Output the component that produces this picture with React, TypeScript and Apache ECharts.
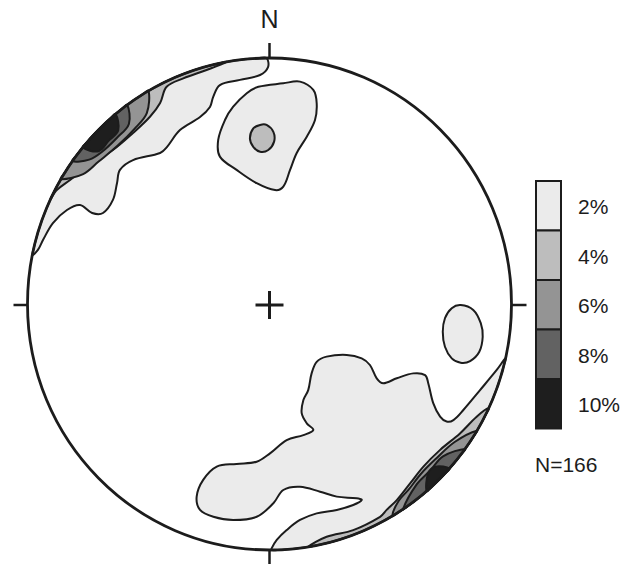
import React, { useEffect, useRef } from "react";
import * as echarts from "echarts";

// Legend levels and grey fills
const levelLabels = ["2%", "4%", "6%", "8%", "10%"];
const levelColors = ["#ebebeb", "#bdbdbd", "#949494", "#626262", "#1e1e1e"];
const sampleLabel = "N=166";
const northLabel = "N";

// Contours in stereonet units (radius = 100, x east, y north).
// arc = [start, end] angles (deg) along the primitive circle, followed by interior points.
const nw2Arc = [168.5, 90.7];
const nw2Pts = [[-0.6, 96.3], [-3.9, 93.1], [-12.2, 91.1], [-20.5, 89.0], [-23.3, 84.1], [-24.6, 80.1], [-28.7, 76.0], [-37.0, 70.7], [-42.4, 63.8], [-45.2, 61.4], [-56.4, 58.5], [-61.8, 54.5], [-63.0, 49.2], [-64.7, 42.3], [-68.8, 37.0], [-73.3, 37.0], [-78.3, 40.2], [-83.7, 38.2], [-89.5, 32.9], [-93.6, 26.0], [-95.7, 22.0]];
const nw4Arc = [154.8, 100.2];
const nw4Pts = [[-26.0, 95.1], [-35.6, 91.7], [-42.5, 88.3], [-45.2, 81.7], [-49.4, 76.1], [-56.4, 69.5], [-64.7, 62.6], [-75.5, 55.8], [-82.4, 50.4], [-87.9, 46.3]];
const nw6Arc = [149.5, 120.0];
const nw6Pts = [[-50.7, 77.6], [-55.8, 71.2], [-62.6, 64.5], [-70.6, 57.9], [-77.0, 52.8]];
const nw8Arc = [144.5, 126.0];
const nw8Pts = [[-58.1, 73.2], [-63.0, 67.6], [-69.3, 61.8], [-74.5, 58.7]];
const nw10Arc = [140.5, 129.5];
const nw10Pts = [[-62.5, 70.6], [-66.4, 66.4], [-70.6, 62.1]];

const n2Pts = [[-4.6, 88.3], [5.7, 89.7], [12.6, 90.4], [18.1, 87.0], [19.5, 81.6], [18.8, 74.8], [15.4, 68.0], [11.2, 61.3], [8.5, 54.5], [5.7, 47.7], [2.3, 46.3], [-5.3, 49.1], [-13.6, 54.5], [-20.5, 59.9], [-21.2, 66.7], [-18.4, 74.8], [-15.0, 80.2], [-9.4, 85.7]];
const n4Pts = [[-1.2, 72.8], [1.6, 70.0], [1.9, 66.0], [-0.5, 62.6], [-3.9, 61.9], [-6.7, 63.9], [-8.1, 67.4], [-6.7, 71.4], [-3.9, 72.8]];

const e2Pts = [[79.0, -0.4], [84.2, -2.4], [87.3, -7.8], [88.1, -13.3], [86.7, -19.4], [82.9, -23.2], [79.0, -23.9], [75.3, -22.1], [72.5, -17.4], [71.6, -11.3], [72.5, -5.8], [75.3, -1.7]];

const s2Arc = [-89.5, -12.8];
const s2Pts = [[93.9, -26.8], [87.0, -35.0], [80.1, -43.1], [76.0, -47.2], [73.2, -47.8], [70.5, -45.8], [67.7, -40.4], [65.6, -32.2], [64.3, -28.9], [59.4, -28.2], [52.6, -30.2], [47.0, -32.2], [44.3, -30.2], [41.5, -24.8], [38.1, -22.1], [31.9, -20.7], [23.6, -21.4], [19.5, -23.5], [17.4, -28.2], [16.0, -35.0], [14.0, -39.0], [13.3, -44.4], [15.4, -48.5], [18.1, -51.2], [14.0, -53.3], [7.1, -55.3], [0.2, -60.7], [-5.3, -64.1], [-13.6, -65.0], [-21.8, -66.1], [-27.4, -71.5], [-30.1, -78.3], [-28.7, -83.7], [-23.2, -86.5], [-15.0, -87.8], [-5.3, -86.5], [1.6, -81.0], [5.7, -75.6], [12.6, -74.3], [20.9, -76.3], [27.8, -78.3], [36.0, -79.0], [38.1, -79.7], [34.6, -81.7], [27.8, -83.7], [19.5, -85.1], [12.6, -87.8], [7.1, -91.9], [3.0, -95.9], [0.9, -99.3]];
const se4Arc = [-80.8, -25.1];
const se4Pts = [[85.6, -45.8], [78.7, -52.6], [70.5, -59.3], [63.6, -66.1], [58.1, -72.9], [52.6, -79.7], [48.4, -83.7], [45.7, -86.5], [34.6, -91.9], [23.6, -94.6]];
const se6Arc = [-59.5, -31.0];
const se6Pts = [[76.5, -56.1], [69.0, -62.7], [62.6, -69.0], [57.3, -75.7], [53.4, -80.0]];
const se8Arc = [-56.5, -36.1];
const se8Pts = [[71.7, -61.9], [66.5, -67.6], [60.6, -73.6]];
const se10Arc = [-49.5, -42.0];
const se10Pts = [[68.5, -66.1], [65.5, -69.0]];

type Contour = { level: number; arc: number[] | null; pts: number[][] };

const contours: Contour[] = [
  { level: 0, arc: nw2Arc, pts: nw2Pts },
  { level: 0, arc: null, pts: n2Pts },
  { level: 0, arc: null, pts: e2Pts },
  { level: 0, arc: s2Arc, pts: s2Pts },
  { level: 1, arc: nw4Arc, pts: nw4Pts },
  { level: 1, arc: null, pts: n4Pts },
  { level: 1, arc: se4Arc, pts: se4Pts },
  { level: 2, arc: nw6Arc, pts: nw6Pts },
  { level: 2, arc: se6Arc, pts: se6Pts },
  { level: 3, arc: nw8Arc, pts: nw8Pts },
  { level: 3, arc: se8Arc, pts: se8Pts },
  { level: 4, arc: nw10Arc, pts: nw10Pts },
  { level: 4, arc: se10Arc, pts: se10Pts },
];

// points on the primitive circle (geometry of the net, radius 100)
function arcPoints(a0: number, a1: number): number[][] {
  const n = Math.max(2, Math.ceil(Math.abs(a1 - a0) / 2));
  const out: number[][] = [];
  for (let i = 0; i <= n; i++) {
    const a = ((a0 + ((a1 - a0) * i) / n) * Math.PI) / 180;
    out.push([100 * Math.cos(a), 100 * Math.sin(a)]);
  }
  return out;
}

const INK = "#1c1c1c";
const FONT = "Liberation Sans, Arial, sans-serif";

export default function App() {
  const ref = useRef<HTMLDivElement>(null);
  useEffect(() => {
    if (!ref.current) return;
    const chart = echarts.init(ref.current, null, { renderer: "svg" });

    const boxX = 536;
    const boxW = 25;
    const boxTop = 181;
    const boxH = 49.5;
    const legend: any[] = [];
    levelLabels.forEach((lab, i) => {
      legend.push({
        type: "rect",
        shape: { x: boxX, y: boxTop + i * boxH, width: boxW, height: boxH },
        style: { fill: levelColors[i], stroke: INK, lineWidth: 2 },
      });
      legend.push({
        type: "text",
        x: 578,
        y: boxTop + i * boxH + boxH / 2 + 1,
        style: { text: lab, font: `21px ${FONT}`, fill: INK, textAlign: "left", textVerticalAlign: "middle" },
      });
    });
    legend.push({
      type: "text",
      x: 535,
      y: 464,
      style: { text: sampleLabel, font: `21px ${FONT}`, fill: INK, textAlign: "left", textVerticalAlign: "middle" },
    });
    legend.push({
      type: "text",
      x: 269.5,
      y: 19,
      style: { text: northLabel, font: `25px ${FONT}`, fill: INK, textAlign: "center", textVerticalAlign: "middle" },
    });

    const option: any = {
      animation: false,
      grid: { left: 27.5, top: 58, width: 484, height: 492, show: false },
      xAxis: { type: "value", min: -100, max: 100, show: false },
      yAxis: { type: "value", min: -100, max: 100, show: false },
      series: [
        {
          type: "custom",
          coordinateSystem: "cartesian2d",
          clip: false,
          data: contours.map((_, i) => [0, 0, i]),
          renderItem: (params: any, api: any) => {
            const c = contours[params.dataIndex];
            const ring = c.arc ? arcPoints(c.arc[0], c.arc[1]) : [];
            const pts = [...ring, ...c.pts].map((p) => api.coord(p));
            return {
              type: "polygon",
              z2: c.level,
              shape: { points: pts, smooth: 0.35 },
              style: { fill: levelColors[c.level], stroke: INK, lineWidth: 2, lineJoin: "round" },
            };
          },
        },
        {
          type: "custom",
          coordinateSystem: "cartesian2d",
          clip: false,
          z: 5,
          data: [[0, 0]],
          renderItem: (params: any, api: any) => {
            const c = api.coord([0, 0]);
            const top = api.coord([0, 100]);
            const bottom = api.coord([0, -100]);
            const left = api.coord([-100, 0]);
            const right = api.coord([100, 0]);
            const rx = right[0] - c[0];
            const ry = c[1] - top[1];
            const st = { stroke: INK, lineWidth: 2.5 };
            const arm = 14;
            return {
              type: "group",
              children: [
                { type: "ellipse", shape: { cx: c[0], cy: c[1], rx, ry }, style: { fill: "none", stroke: INK, lineWidth: 2.8 } },
                { type: "line", shape: { x1: top[0], y1: top[1], x2: top[0], y2: top[1] - 15 }, style: st },
                { type: "line", shape: { x1: bottom[0], y1: bottom[1], x2: bottom[0], y2: bottom[1] + 16 }, style: st },
                { type: "line", shape: { x1: left[0], y1: left[1] + 1, x2: left[0] - 14, y2: left[1] + 1 }, style: st },
                { type: "line", shape: { x1: right[0], y1: right[1] + 1, x2: right[0] + 15, y2: right[1] + 1 }, style: st },
                { type: "line", shape: { x1: c[0] - arm, y1: c[1] + 1, x2: c[0] + arm, y2: c[1] + 1 }, style: { stroke: INK, lineWidth: 3 } },
                { type: "line", shape: { x1: c[0], y1: c[1] - arm + 1, x2: c[0], y2: c[1] + arm + 1 }, style: { stroke: INK, lineWidth: 3 } },
              ],
            };
          },
        },
      ],
      graphic: legend,
    };
    chart.setOption(option);
    return () => chart.dispose();
  }, []);
  return <div ref={ref} style={{ position: "fixed", left: 0, top: 0, width: 637, height: 564, background: "#fff" }} />;
}
